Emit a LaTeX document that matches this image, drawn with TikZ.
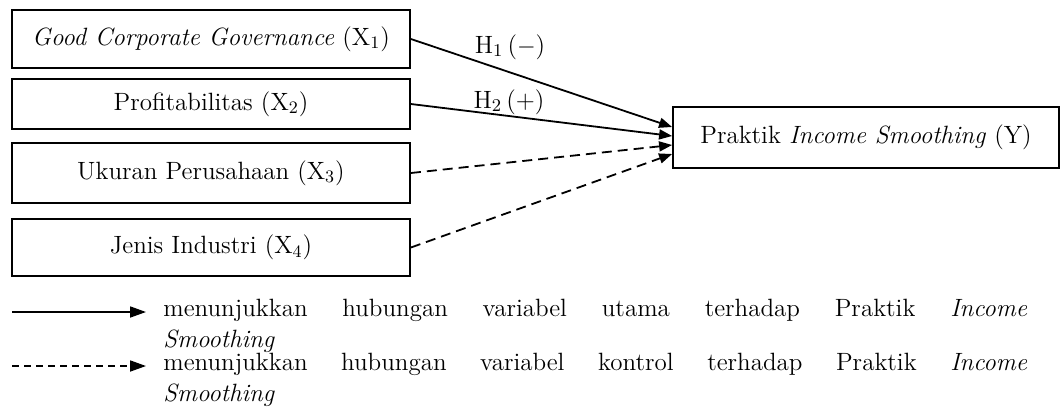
\documentclass[tikz,border=0pt]{standalone}
\usetikzlibrary{arrows.meta,calc}
\begin{document}
\begin{tikzpicture}[x=0.5pt,y=-0.5pt,
  font=\fontsize{12.5}{15.5}\selectfont,
  box/.style={draw,line width=0.9pt,inner sep=0pt},
  var/.style={box,minimum width=199pt},
  link/.style={line width=0.9pt,-{Triangle[length=6.5pt,width=5pt]}},
  ctrl/.style={link,dash pattern=on 5pt off 3pt},
  lbl/.style={inner sep=0pt},
  legtext/.style={inner sep=0pt,anchor=north west,text width=432pt,align=justify}]
\useasboundingbox (0,0) rectangle (1062,414);
\node[var,minimum height=29pt] (x1) at (211,39) {\textit{Good Corporate Governance} (X\textsubscript{1})};
\node[var,minimum height=25pt] (x2) at (211,104) {Profitabilitas (X\textsubscript{2})};
\node[var,minimum height=30pt] (x3) at (211,173) {Ukuran Perusahaan (X\textsubscript{3})};
\node[var,minimum height=28.5pt] (x4) at (211,247.5) {Jenis Industri (X\textsubscript{4})};
\node[box,minimum width=193pt,minimum height=30.5pt] (y) at (866,137.5) {Praktik \textit{Income Smoothing} (Y)};
\coordinate (t1) at ($(y.west)+(0,-10.5)$);
\coordinate (t2) at ($(y.west)+(0,-1.5)$);
\coordinate (t3) at ($(y.west)+(0,7.5)$);
\coordinate (t4) at ($(y.west)+(0,16.5)$);
\draw[link] (x1.east) -- (t1);
\draw[link] (x2.east) -- (t2);
\draw[ctrl] (x3.east) -- (t3);
\draw[ctrl] (x4.east) -- (t4);
\node[lbl] (h1) at (510,47) {H$_1$\,($-$)};
\node[lbl] (h2) at (509,102) {H$_2$\,(+)};
% legend
\coordinate (ls1) at (12,312);
\coordinate (le1) at (146,312);
\coordinate (ls2) at (12,366);
\coordinate (le2) at (146,366);
\draw[line width=0.9pt,-{Triangle[length=8pt,width=5.5pt]}] (ls1) -- (le1);
\draw[line width=0.9pt,dash pattern=on 3.5pt off 2.5pt,-{Triangle[length=8pt,width=5.5pt]}] (ls2) -- (le2);
\node[legtext] (lg1) at (163,299) {menunjukkan hubungan variabel utama terhadap Praktik \textit{Income}\linebreak \textit{Smoothing}};
\node[legtext] (lg2) at (163,353) {menunjukkan hubungan variabel kontrol terhadap Praktik \textit{Income}\linebreak \textit{Smoothing}};
\end{tikzpicture}
\end{document}
